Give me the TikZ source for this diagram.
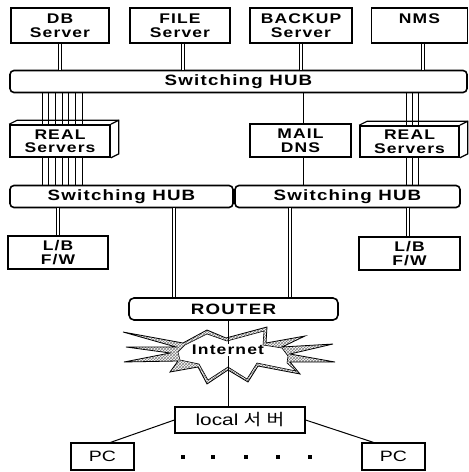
\documentclass[tikz,border=0pt]{standalone}
\usepackage{fontspec}
\setmainfont{Liberation Sans}
\newfontfamily\netfont[FakeStretch=1.25,LetterSpace=8]{Liberation Sans}
\newfontfamily\pcfont[FakeStretch=1.3]{Liberation Sans}
\newfontfamily\kofont[FakeStretch=1.2]{Noto Sans CJK KR}
\usetikzlibrary{patterns}

\tikzset{
  srvbox/.style={draw, line width=1.6pt, inner sep=0pt, align=center,
    font=\netfont\bfseries\fontsize{14}{13.5}\selectfont},
  hubbar/.style={srvbox, rounded corners=4pt, minimum height=22,
    font=\netfont\bfseries\fontsize{15}{15}\selectfont},
  dlink/.style={double, double distance=1.4pt, line width=0.9pt},
  slink/.style={line width=0.8pt},
  pcbox/.style={draw, line width=1.2pt, inner sep=0pt,
    font=\pcfont\fontsize{15}{15}\selectfont}
}

\begin{document}
\begin{tikzpicture}[ x=1pt, y=-1pt ]
\useasboundingbox (0,0) rectangle (469,472);

% servers on top
\node[srvbox, minimum width=98, minimum height=35] (db) at (60,25.5) {DB\\Server};
\node[srvbox, minimum width=100, minimum height=35] (file) at (180,25.5) {FILE\\Server};
\node[srvbox, minimum width=102, minimum height=35] (backup) at (301,25.5) {BACKUP\\Server};
\node[srvbox, minimum width=96, minimum height=35] (nms) at (419.5,25.5) {NMS\\\phantom{S}};

\node[hubbar, minimum width=457] (hubtop) at (238.5,81.5) {Switching HUB};

% second row
\node[srvbox, minimum width=100, minimum height=32] (realL) at (60,141) {REAL\\Servers};
\node[srvbox, minimum width=101, minimum height=33] (mail) at (300.5,140.5) {MAIL\\DNS};
\node[srvbox, minimum width=99, minimum height=31] (realR) at (409.5,141.5) {REAL\\Servers};

\foreach \n in {realL,realR}{
  \draw[line width=1.2pt] (\n.north west) -- ++(8,-4) -- ([shift={(8,-4)}]\n.north east)
    -- ([shift={(8,-4)}]\n.south east) -- (\n.south east);
  \draw[line width=1.2pt] (\n.north east) -- ++(8,-4);
}

\node[hubbar, minimum width=223] (hubL) at (121.5,196.5) {Switching HUB};
\node[hubbar, minimum width=225] (hubR) at (347.5,196.5) {Switching HUB};

\node[srvbox, minimum width=100, minimum height=33] (lbL) at (58,252.5) {L/B\\F/W};
\node[srvbox, minimum width=101, minimum height=33] (lbR) at (409.5,253.5) {L/B\\F/W};

\node[hubbar, minimum width=209, rounded corners=5pt] (router) at (233.5,309) {ROUTER};

% internet cloud
\draw[line width=0.8pt, pattern=crosshatch, pattern color=gray]
  (123,332) -- (183,343) -- (207,330) -- (226,338) -- (267,327) -- (266,343)
  -- (305,336) -- (282,347) -- (333,344) -- (290,354) -- (335,362) -- (290,362)
  -- (300,374) -- (258,366) -- (248,382) -- (228,370) -- (207,384) -- (198,367)
  -- (170,372) -- (178,361) -- (124,362) -- (170,353) -- (126,347) -- (176,347) -- cycle;
\draw[line width=0.6pt, fill=white]
  (185,345) -- (207,334) -- (227,341) -- (264,331) -- (263,345) -- (282,348)
  -- (288,356) -- (287,363) -- (296,371) -- (257,363) -- (247,379) -- (228,367)
  -- (208,380) -- (199,364) -- (180,360) -- (178,352) -- cycle;
\node[font=\netfont\bfseries\fontsize{14}{14}\selectfont, inner sep=1pt] (inet) at (228,350) {Internet};

\node[pcbox, minimum width=130, minimum height=26, font=\pcfont\fontsize{16}{16}\selectfont] (local) at (240,420) {local\,\,{\kofont 서\,\,버}};
\node[pcbox, minimum width=63, minimum height=27] (pcL) at (102.5,456.5) {PC};
\node[pcbox, minimum width=63, minimum height=27] (pcR) at (393.5,456.5) {PC};

\foreach \x in {183,213,246,278,310}
  \fill (\x-1.6,455.4) rectangle (\x+1.6,458.6);

% links
\draw[dlink] (db.south) -- (db.south |- hubtop.north);
\draw[dlink] ([xshift=3]file.south) -- ([xshift=3]file.south |- hubtop.north);
\draw[dlink] (backup.south) -- (backup.south |- hubtop.north);
\draw[dlink] ([xshift=3.5]nms.south) -- ([xshift=3.5]nms.south |- hubtop.north);

\foreach \dx in {-18,-11.3,-4.6,2,8.6,15.3,22}{
  \draw[slink] ([xshift=\dx]realL.north |- hubtop.south) -- ([xshift=\dx]realL.north);
  \draw[slink] ([xshift=\dx]realL.south) -- ([xshift=\dx]realL.south |- hubL.north);
}
\foreach \dx in {-3.5,2.5,8.5}{
  \draw[slink] ([xshift=\dx]realR.north |- hubtop.south) -- ([xshift=\dx]realR.north);
  \draw[slink] ([xshift=\dx]realR.south) -- ([xshift=\dx]realR.south |- hubR.north);
}
\draw[slink] ([xshift=2.5]mail.north |- hubtop.south) -- ([xshift=2.5]mail.north);
\draw[slink] ([xshift=2.5]mail.south) -- ([xshift=2.5]mail.south |- hubR.north);

\draw[dlink] (lbL.north |- hubL.south) -- (lbL.north);
\draw[dlink] ([xshift=-1.5]lbR.north |- hubR.south) -- ([xshift=-1.5]lbR.north);
\draw[dlink] ([xshift=52.5]hubL.south) -- ([xshift=52.5]hubL.south |- router.north);
\draw[dlink] ([xshift=-57.5]hubR.south) -- ([xshift=-57.5]hubR.south |- router.north);

\draw[slink] (inet |- router.south) -- (inet);
\draw[slink] (inet) -- (inet |- local.north);
\draw[line width=1pt] (local.west) -- ([xshift=8]pcL.north);
\draw[line width=1pt] (local.east) -- ([xshift=-20]pcR.north);

\end{tikzpicture}
\end{document}
